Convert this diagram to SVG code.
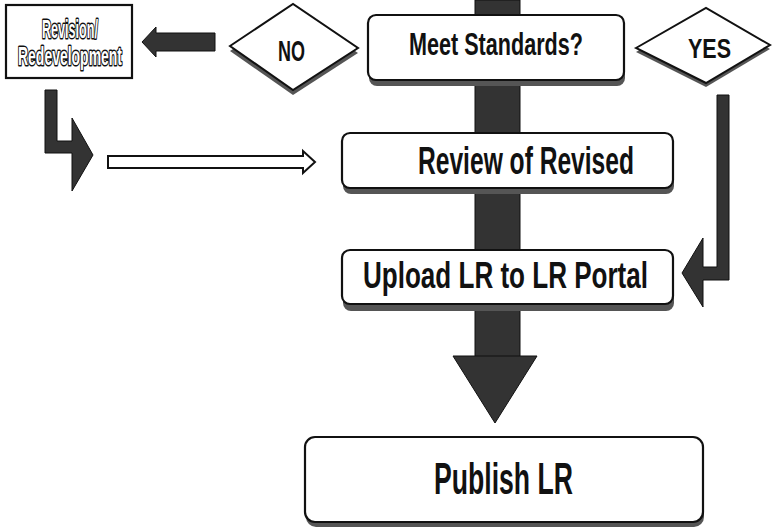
<svg xmlns="http://www.w3.org/2000/svg" width="772" height="530" viewBox="0 0 772 530">
<style>
.box{fill:#fff;stroke:#111;stroke-width:2.2}
.shadow{fill:#555}
.dia{fill:#fff;stroke:#111;stroke-width:2}
.dark{fill:#333;stroke:#111;stroke-width:1}
.hollow{fill:#fff;stroke:#111;stroke-width:2}
.t{font-family:"Liberation Sans Narrow","Liberation Sans",Arial,sans-serif;font-weight:bold;fill:#111;text-anchor:middle}
.tw{font-family:"Liberation Sans Narrow","Liberation Sans",Arial,sans-serif;font-weight:bold;fill:#fff;stroke:#111;stroke-width:3;paint-order:stroke;stroke-linejoin:round;text-anchor:middle}
</style>
<rect width="772" height="530" fill="#fff"/>
<g id="connectors">
  <rect class="dark" x="475" y="0" width="45" height="358"/>
  <polygon class="dark" points="453,356 537,356 495,423"/>
  <polygon class="dark" points="142,42 156,27 156,33 215,33 215,51 156,51 156,57"/>
  <polygon class="dark" points="45,90 57,90 57,141 72,141 72,118 93,155 72,191 72,153 45,153"/>
  <polygon class="hollow" points="108,156 303,156 303,151 315,162 303,173 303,168 108,168"/>
  <polygon class="dark" points="717,95 729,95 729,280 703,280 703,307 682,273 703,238 703,267 717,267"/>
</g>
<g id="revision">
  <rect x="6" y="5" width="126" height="73" fill="#fff" stroke="#111" stroke-width="2.2"/>
  <text class="tw" x="70" y="38" font-size="25" textLength="56" lengthAdjust="spacingAndGlyphs">Revision/</text>
  <text class="tw" x="70" y="65" font-size="25" textLength="104" lengthAdjust="spacingAndGlyphs">Redevelopment</text>
</g>
<g id="no">
  <polygon class="shadow" points="230,51 293,9 358,53 293,95"/>
  <polygon class="dia" points="230,46 293,4 358,48 293,90"/>
  <text class="t" x="291.5" y="61" font-size="30" textLength="27" lengthAdjust="spacingAndGlyphs">NO</text>
</g>
<g id="meet">
  <rect class="shadow" x="369" y="20" width="256" height="66" rx="8"/>
  <rect class="box" x="368" y="15" width="256" height="65" rx="8"/>
  <text class="t" x="496" y="55" font-size="32" textLength="174" lengthAdjust="spacingAndGlyphs">Meet Standards?</text>
</g>
<g id="yes">
  <polygon class="shadow" points="636,52 706,12 770,49 706,87"/>
  <polygon class="dia" points="636,48 706,8 770,45 706,83"/>
  <text class="t" x="709.5" y="58" font-size="28" textLength="43" lengthAdjust="spacingAndGlyphs">YES</text>
</g>
<g id="review">
  <rect class="shadow" x="343" y="138" width="331" height="56" rx="8"/>
  <rect class="box" x="342" y="133" width="331" height="55" rx="8"/>
  <text class="t" x="526" y="174" font-size="39" textLength="216" lengthAdjust="spacingAndGlyphs">Review of Revised</text>
</g>
<g id="upload">
  <rect class="shadow" x="343" y="255" width="331" height="56" rx="8"/>
  <rect class="box" x="342" y="250" width="331" height="54" rx="8"/>
  <text class="t" x="505.5" y="288" font-size="36" textLength="285" lengthAdjust="spacingAndGlyphs">Upload LR to LR Portal</text>
</g>
<g id="publish">
  <rect class="shadow" x="306" y="442" width="398" height="85" rx="10"/>
  <rect class="box" x="305" y="437" width="398" height="85" rx="10"/>
  <text class="t" x="503.5" y="494" font-size="44" textLength="139" lengthAdjust="spacingAndGlyphs">Publish LR</text>
</g>
</svg>
